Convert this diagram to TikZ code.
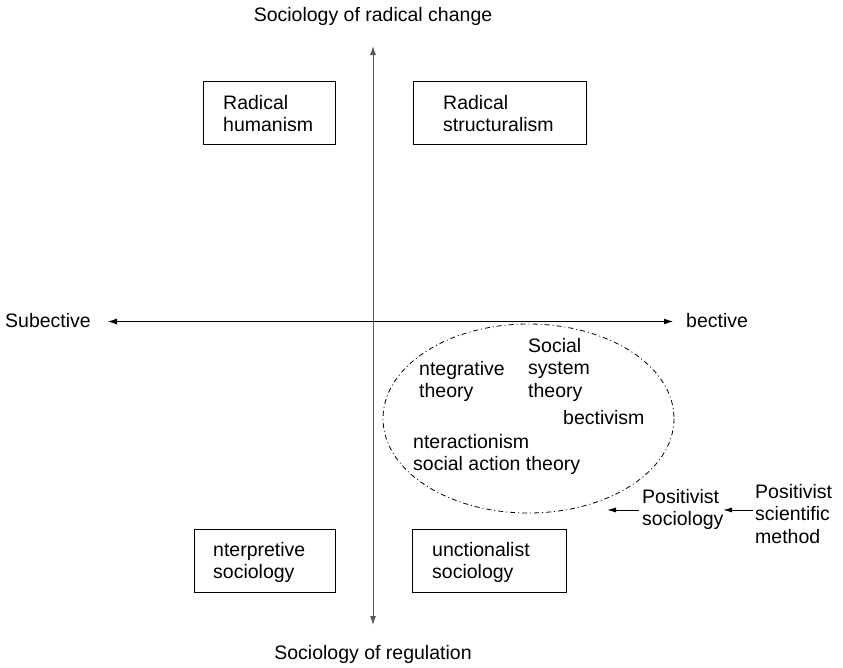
\documentclass[tikz,border=0pt]{standalone}
\usepackage{fontspec}
\setmainfont{Liberation Sans}
\usetikzlibrary{arrows.meta}
\begin{document}
\begin{tikzpicture}[x=1pt,y=-1pt,
  every node/.style={font=\fontsize{19.5}{22.5}\selectfont, inner sep=0pt},
  txt/.style={align=left, anchor=north west},
  quad/.style={draw, line width=0.9pt},
  axis/.style={line width=0.9pt, -{Latex[length=9pt,width=6pt]}},
  feed/.style={line width=0.9pt, -{Latex[length=9pt,width=5pt]}},
  family/.style={line width=0.8pt, dash pattern=on 5pt off 3pt on 1pt off 3pt}]
\useasboundingbox (0,0) rectangle (843,667);

% axis end labels
\node[anchor=base] (top) at (373,21) {Sociology of radical change};
\node[anchor=base] (bottom) at (373,659) {Sociology of regulation};
\node[anchor=base west] (left) at (5,327) {Subective};
\node[anchor=base west] (right) at (686,327) {bective};

% axes
\coordinate (vtop) at (373,46);
\coordinate (vbot) at (373,625);
\coordinate (hmid) at (373,321.5);
\coordinate (hl) at (108,321.5);
\coordinate (hr) at (673,321.5);
\draw[axis, black!65] (hmid) -- (vtop);
\draw[axis, black!65] (hmid) -- (vbot);
\draw[axis] (hmid) -- (hl);
\draw[axis] (hmid) -- (hr);

% quadrant boxes
\draw[quad] (203,81) rectangle (335,144);
\node[txt] (rh) at (223,95) {Radical\\humanism};
\draw[quad] (413,81) rectangle (586,144);
\node[txt] (rs) at (443,95) {Radical\\structuralism};
\draw[quad] (194,529) rectangle (335,592);
\node[txt] (is) at (213,542) {nterpretive\\sociology};
\draw[quad] (412,529) rectangle (566,592);
\node[txt] (fs) at (432,542) {unctionalist\\sociology};

% positivist family of theories
\draw[family] (528.5,418.5) ellipse (145.5 and 94.5);
\node[txt] (it) at (419,361) {ntegrative\\theory};
\node[txt] (sst) at (528,338) {Social\\system\\theory};
\node[anchor=base west] (ob) at (563,424) {bectivism};
\node[txt] (ia) at (413,434) {nteractionism\\social action theory};

% positivist chain
\node[txt] (ps) at (642,489) {Positivist\\sociology};
\node[txt] (psm) at (755,484) {Positivist\\scientific\\method};
\coordinate (ell) at (607,510);
\draw[feed] (639,510) -- (ell);
\draw[feed] (753,510) -- (723,510);
\end{tikzpicture}
\end{document}
